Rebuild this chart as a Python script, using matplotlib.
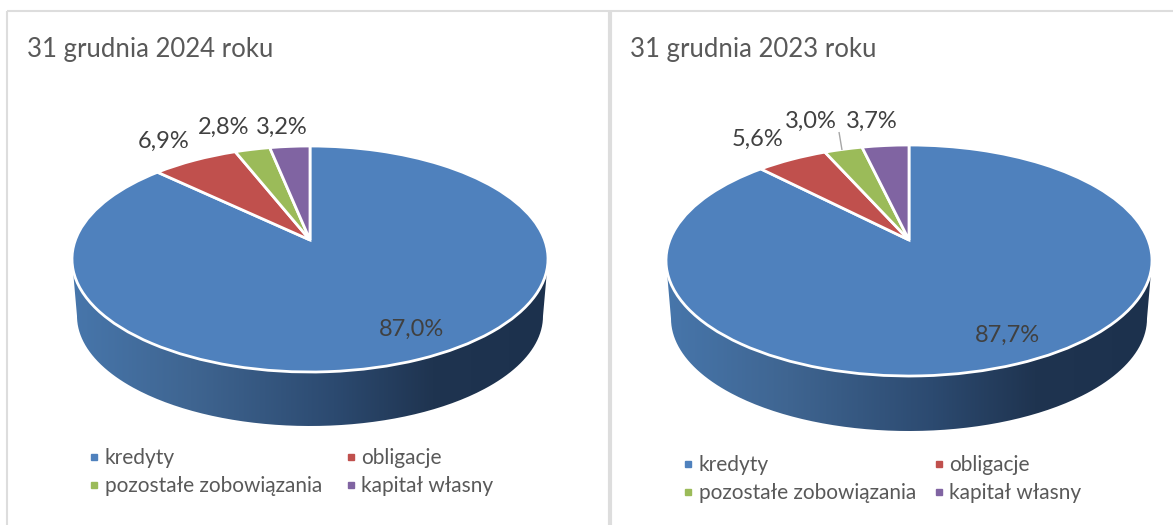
import numpy as np
import matplotlib
matplotlib.use("Agg")
import matplotlib.pyplot as plt
from matplotlib.lines import Line2D
from matplotlib.patches import PathPatch
from matplotlib.path import Path
from matplotlib.transforms import Transform
from matplotlib.colors import LinearSegmentedColormap

categories = ["kredyty", "obligacje", "pozostałe zobowiązania", "kapitał własny"]
values_2024 = [87.0, 6.9, 2.8, 3.2]
values_2023 = [87.7, 5.6, 3.0, 3.7]
title_2024 = "31 grudnia 2024 roku"
title_2023 = "31 grudnia 2023 roku"
colors = ["#4F81BD", "#C0504D", "#9BBB59", "#8064A2"]

plt.rcParams["font.family"] = ["Lato", "DejaVu Sans"]
W, H = 1173, 525
fig = plt.figure(figsize=(W / 100, H / 100), dpi=100, facecolor="white")
ax = fig.add_axes([0, 0, 1, 1])


class Tilt(Transform):
    """Perspective view of the unit disc, in figure pixels."""
    input_dims = output_dims = 2
    is_separable = False
    has_inverse = False

    def __init__(self, cx, cy, top, bottom, half_w):
        super().__init__()
        up, down = cy - top, bottom - cy
        ratio = down / up
        self.k = (ratio - 1) / (ratio + 1)
        self.A = up * (1 + self.k)
        self.B = half_w * np.sqrt(1 - self.k ** 2)
        self.cx, self.cy = cx, cy

    def transform_non_affine(self, xy):
        xy = np.asarray(xy, float)
        d = 1 + self.k * xy[:, 1]
        return np.column_stack([self.cx + self.B * xy[:, 0] / d,
                                self.cy - self.A * xy[:, 1] / d])


wall_cmap = LinearSegmentedColormap.from_list(
    "wall", [(0, "#4776AB"), (0.25, "#3F6591"), (0.55, "#2C4A70"),
             (0.76, "#1F3450"), (1, "#1C314D")])


def draw_pie(values, title, title_x, cx, cy, top, bottom, half_w, wall_bottom,
             label_xy, leg_anchor, col_space):
    tilt = Tilt(cx, cy, top, bottom, half_w)
    # side wall
    t = np.linspace(np.pi, 2 * np.pi, 200)
    ecy = (top + bottom) / 2
    eh = (bottom - top) / 2
    wall_h = half_w - 5
    wall_v = eh - 3
    wall_cy = wall_bottom - wall_v
    upper = np.column_stack([cx + half_w * np.cos(t), ecy - eh * np.sin(t)])
    lower = np.column_stack([cx + wall_h * np.cos(t[::-1]), wall_cy - wall_v * np.sin(t[::-1])])
    verts = np.vstack([upper, lower, upper[:1]])
    clip = PathPatch(Path(verts), transform=ax.transData, fc="none", ec="none")
    ax.add_patch(clip)
    grad = np.linspace(0, 1, 256).reshape(1, -1)
    im = ax.imshow(grad, extent=[cx - half_w, cx + half_w, wall_bottom, ecy],
                   cmap=wall_cmap, aspect="auto", zorder=1)
    im.set_clip_path(clip)
    # top face
    wedges, _ = ax.pie(values, colors=colors, startangle=90, counterclock=False,
                       radius=1, center=(0, 0), normalize=True,
                       wedgeprops=dict(transform=tilt + ax.transData,
                                       edgecolor="white", linewidth=2, zorder=2))
    # data labels
    for v, (lx, ly) in zip(values, label_xy):
        ax.text(lx, ly, f"{v:.1f}%".replace(".", ","), ha="center", va="center",
                fontsize=17, color="#404040", zorder=4)
    ax.text(title_x, 49, title, fontsize=18.5, color="#595959", ha="left", va="center")
    # legend
    hs = [Line2D([], [], ls="none", marker="s", ms=5, color=c) for c in colors]
    order = [0, 2, 1, 3]
    leg = ax.legend([hs[i] for i in order], [categories[i] for i in order], ncol=2,
                    loc="upper left", bbox_to_anchor=leg_anchor,
                    bbox_transform=ax.transData, frameon=False, fontsize=15,
                    labelcolor="#595959", handletextpad=0.0, columnspacing=col_space,
                    labelspacing=0.38, borderpad=0, borderaxespad=0, handlelength=1.0)
    return leg


leg1 = draw_pie(values_2024, title_2024, 27, 310, 240, 146, 372, 238, 426,
                [(411, 329), (164, 141), (224, 127), (282, 127)], (84, 448), 0.87)
ax.add_artist(leg1)
leg2 = draw_pie(values_2023, title_2023, 630, 909, 240, 145, 376, 243, 431,
                [(1007, 335), (758, 139), (811, 121), (872, 121)], (678, 455), 0.58)

# leader line
ax.plot([839, 842], [132, 150], color="#A6A6A6", lw=1, zorder=3, solid_capstyle="butt")

# panel frame
for xs, ys, lw in [([7, 7], [11, 525], 1.5), ([7, 1173], [11, 11], 1.5),
                   ([610, 610], [11, 525], 3)]:
    ax.plot(xs, ys, color="#DDDDDD", lw=lw, zorder=0, solid_capstyle="butt")

ax.set_aspect("auto")
ax.set_xlim(0, W)
ax.set_ylim(H, 0)
ax.axis("off")
fig.savefig("out.png", dpi=100, facecolor="white")
